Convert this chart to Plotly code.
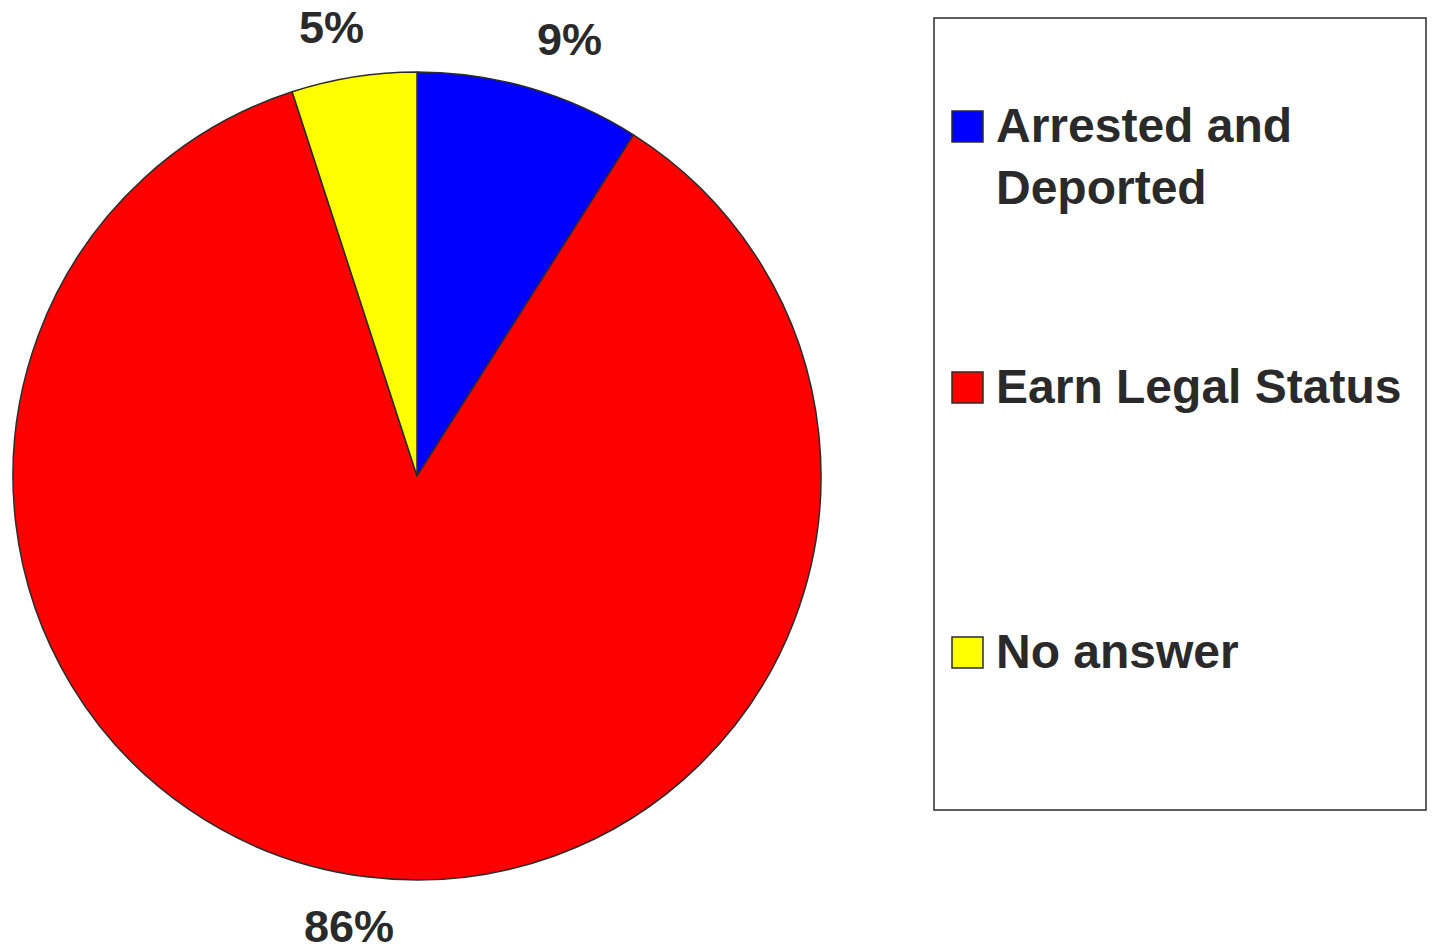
import math
import plotly.graph_objects as go

categories = ["Arrested and Deported", "Earn Legal Status", "No answer"]
legend_labels = ["Arrested and<br>Deported", "Earn Legal Status", "No answer"]
values = [9, 86, 5]
colors = ["#0000FF", "#FF0000", "#FFFF00"]

W, H = 1432, 947
TXT = "#2a2a2a"
FONT = "Liberation Sans, Arial, sans-serif"


def px(x):
    return x / W


def py(y):
    return 1 - y / H


# pie geometry (screen pixels)
cx, cy, R = 417, 476, 404

fig = go.Figure(
    go.Pie(
        labels=categories,
        values=values,
        marker=dict(colors=colors, line=dict(color="#2b2b2b", width=1.5)),
        sort=False,
        direction="clockwise",
        rotation=0,
        textinfo="none",
        hoverinfo="label+percent",
        showlegend=False,
        domain=dict(x=[px(cx - R), px(cx + R)], y=[py(cy + R), py(cy - R)]),
    )
)

annotations = []
shapes = []

# percentage labels outside slices
total = sum(values)
cum = 0
for v in values:
    mid = (cum + v / 2) / total * 2 * math.pi
    cum += v
    lx = cx + R * 1.35 * math.sin(mid)
    ly = cy - R * 1.125 * math.cos(mid)
    annotations.append(
        dict(
            x=px(lx), y=py(ly), xref="paper", yref="paper",
            text=f"{round(v / total * 100)}%", showarrow=False,
            xanchor="center", yanchor="middle",
            font=dict(family=FONT, size=45, color=TXT, weight="bold"),
        )
    )

# legend box
shapes.append(
    dict(type="rect", xref="paper", yref="paper",
         x0=px(934), x1=px(1426), y0=py(810), y1=py(18),
         line=dict(color="#2b2b2b", width=1.5), fillcolor="rgba(0,0,0,0)")
)
item_tops = [111, 372, 637]
for lab, col, top in zip(legend_labels, colors, item_tops):
    shapes.append(
        dict(type="rect", xref="paper", yref="paper",
             x0=px(952), x1=px(983), y0=py(top + 31), y1=py(top),
             line=dict(color="#2b2b2b", width=1.5), fillcolor=col)
    )
    annotations.append(
        dict(x=px(994), y=py(top - 14), xref="paper", yref="paper",
             text=lab, showarrow=False, xanchor="left", yanchor="top",
             align="left",
             font=dict(family=FONT, size=48, color=TXT, weight="bold"))
    )

fig.update_layout(
    width=W, height=H,
    margin=dict(l=0, r=0, t=0, b=0),
    paper_bgcolor="white", plot_bgcolor="white",
    annotations=annotations, shapes=shapes,
    showlegend=False,
)

fig.write_html(
    "out.html",
    config={"displayModeBar": False},
    post_script="document.body.style.margin='0px';document.body.style.overflow='hidden';",
)
